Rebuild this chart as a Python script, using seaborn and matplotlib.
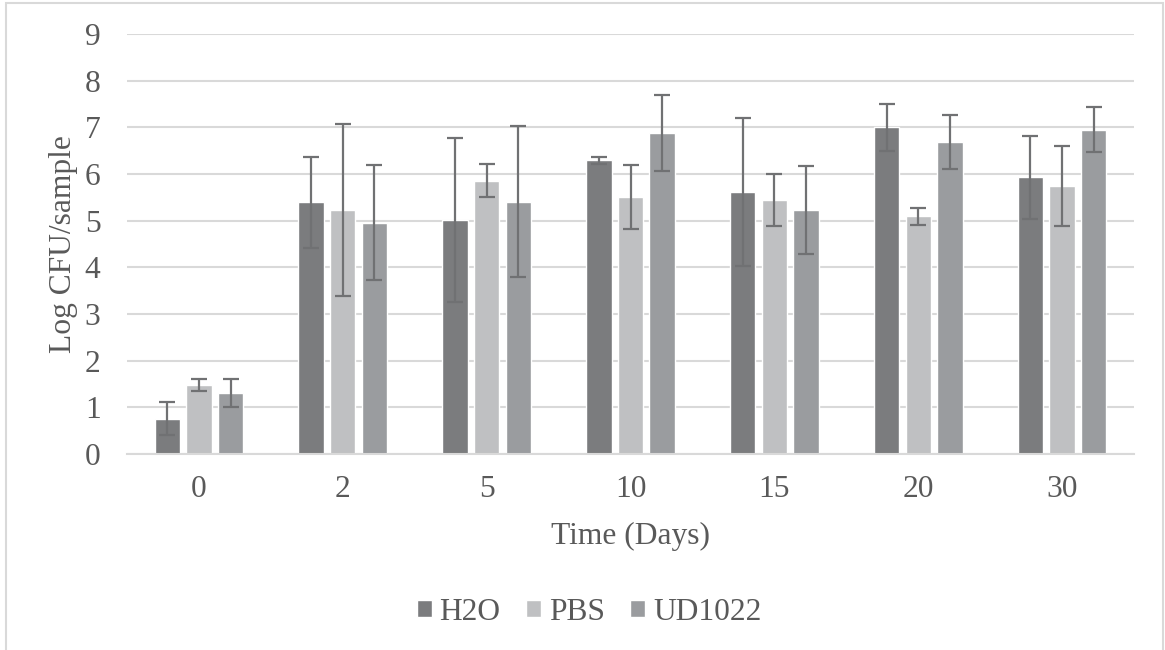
import numpy as np
import pandas as pd
import matplotlib
matplotlib.use("Agg")
import matplotlib.pyplot as plt
from matplotlib.patches import Rectangle
import seaborn as sns

days = ["0", "2", "5", "10", "15", "20", "30"]
treatments = ["H2O", "PBS", "UD1022"]

h2o_mean = [0.76, 5.39, 5.01, 6.29, 5.62, 7.00, 5.93]
pbs_mean = [1.48, 5.23, 5.86, 5.51, 5.44, 5.09, 5.74]
ud_mean = [1.31, 4.96, 5.41, 6.88, 5.23, 6.68, 6.95]

h2o_err = [0.36, 0.98, 1.76, 0.07, 1.59, 0.51, 0.89]
pbs_err = [0.13, 1.85, 0.36, 0.69, 0.56, 0.19, 0.85]
ud_err = [0.30, 1.24, 1.61, 0.82, 0.95, 0.58, 0.48]

colors = ["#7b7c7e", "#bfc0c2", "#9a9c9f"]
text_color = "#595959"
grid_color = "#d9d9d9"
fs = 22.7

sns.set_theme(style="white")
plt.rcParams["font.family"] = ["Liberation Serif", "DejaVu Serif"]

means = [h2o_mean, pbs_mean, ud_mean]
errs = [h2o_err, pbs_err, ud_err]
df = pd.DataFrame({
    "day": np.tile(days, len(treatments)),
    "treatment": np.repeat(treatments, len(days)),
    "value": np.concatenate(means),
})

W, H = 1165, 650
fig = plt.figure(figsize=(W / 100, H / 100), dpi=100)
# light frame around the chart area
fig.add_artist(Rectangle((6 / W, -0.05), 1156.5 / W, 1.05 - 3.5 / H,
                         transform=fig.transFigure, fill=False,
                         edgecolor=grid_color, linewidth=1.5))
ax = fig.add_axes([127 / W, 1 - 454 / H, 1007 / W, 420 / H])

sns.barplot(data=df, x="day", y="value", hue="treatment", order=days,
            hue_order=treatments, palette=colors, errorbar=None,
            width=0.66, gap=0.2, saturation=1, ax=ax, legend=True)

# error bars drawn at the centres of the bars placed by seaborn
for container, err in zip(ax.containers, errs):
    xs = [p.get_x() + p.get_width() / 2 for p in container]
    ys = [p.get_height() for p in container]
    ax.errorbar(xs, ys, yerr=err, fmt="none", ecolor="#707173",
                elinewidth=1.6, capsize=6, capthick=1.6, zorder=3)

ax.set_xlim(-0.5, len(days) - 0.5)
ax.set_ylim(0, 9)
ax.set_yticks(range(0, 10))
ax.yaxis.grid(True, color=grid_color, linewidth=1.5)
ax.set_axisbelow(True)
for side in ["top", "right", "left"]:
    ax.spines[side].set_visible(False)
ax.spines["bottom"].set_color(grid_color)
ax.spines["bottom"].set_linewidth(1.5)
ax.tick_params(axis="both", length=0, labelsize=fs, labelcolor=text_color)
ax.tick_params(axis="x", pad=15)
ax.tick_params(axis="y", pad=19)
ax.set_xlabel("Time (Days)", fontsize=fs, color=text_color, labelpad=13)
ax.set_ylabel("Log CFU/sample", fontsize=fs, color=text_color, labelpad=5)

handles, labels = ax.get_legend_handles_labels()
ax.get_legend().remove()
fig.legend(handles, labels, loc="center", bbox_to_anchor=(589 / W, 1 - 612 / H),
           ncol=3, frameon=False, fontsize=fs, handlelength=0.48,
           handleheight=0.48, handletextpad=0.25, columnspacing=0.8,
           labelcolor=text_color)

fig.savefig("out.png", dpi=100)
